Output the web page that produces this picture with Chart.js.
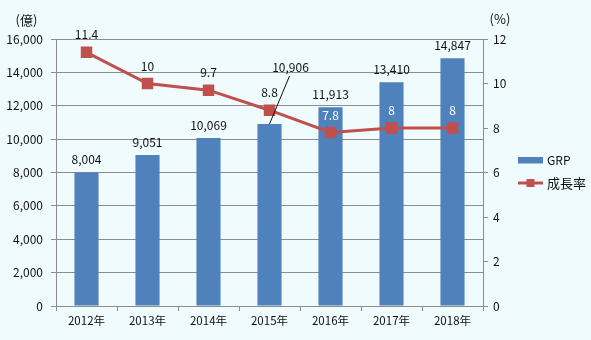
<!DOCTYPE html>
<html>
<head>
<meta charset="utf-8">
<script src="https://cdn.jsdelivr.net/npm/chart.js@4"></script>
<style>
  html, body { margin: 0; padding: 0; background: #effbfd; }
  #wrap { width: 591px; height: 340px; position: relative; }
</style>
</head>
<body>
<div id="wrap"><canvas id="chart"></canvas></div>
<script>
const years = ['2012年', '2013年', '2014年', '2015年', '2016年', '2017年', '2018年']
const grp = [8004, 9051, 10069, 10906, 11913, 13410, 14847]
const growth = [11.4, 10, 9.7, 8.8, 7.8, 8, 8]
const grpTicks = [0, 2000, 4000, 6000, 8000, 10000, 12000, 14000, 16000]
const rateTicks = [0, 2, 4, 6, 8, 10, 12]

const BLUE = '#4f81bd'
const RED = '#c0504d'
const GRID = '#8c8c8c'
const FONT = "'Noto Sans CJK JP', 'Noto Sans', sans-serif"

const fmt = n => n.toLocaleString('en-US')

// background, value labels, unit labels and legend
const decor = {
  id: 'decor',
  beforeDraw (chart) {
    const ctx = chart.ctx
    ctx.save()
    ctx.fillStyle = '#effbfd'
    ctx.fillRect(0, 0, chart.width, chart.height)
    ctx.restore()
  },
  afterDatasetsDraw (chart) {
    const ctx = chart.ctx
    const bars = chart.getDatasetMeta(0).data
    const pts = chart.getDatasetMeta(1).data
    ctx.save()
    ctx.font = `12px ${FONT}`
    ctx.textAlign = 'center'
    ctx.textBaseline = 'middle'

    bars.forEach((bar, i) => {
      ctx.fillStyle = '#111'
      if (i === 3) {
        // label moved up and right, with a leader line
        ctx.strokeStyle = '#111'
        ctx.lineWidth = 1
        ctx.beginPath()
        ctx.moveTo(bar.x, bar.y)
        ctx.lineTo(bar.x + 20, bar.y - 48)
        ctx.stroke()
        ctx.fillText(fmt(grp[i]), bar.x + 21, bar.y - 57)
      } else {
        ctx.fillText(fmt(grp[i]), bar.x, bar.y - 12.5)
      }
    })

    pts.forEach((pt, i) => {
      const ly = pt.y - 17.5
      const bar = bars[i]
      ctx.fillStyle = ly > bar.y ? '#ffffff' : '#111'
      ctx.fillText(String(growth[i]), pt.x, ly)
    })

    // unit labels
    ctx.font = `13px ${FONT}`
    ctx.fillStyle = '#111'
    ctx.fillText('(億)', 26.5, 20)
    ctx.fillText('(%)', 500, 19)

    // legend
    const lx = 518
    ctx.fillStyle = BLUE
    ctx.fillRect(lx, 157, 25, 6.5)
    ctx.strokeStyle = RED
    ctx.lineWidth = 3
    ctx.beginPath()
    ctx.moveTo(lx, 183)
    ctx.lineTo(lx + 25, 183)
    ctx.stroke()
    ctx.fillStyle = RED
    ctx.fillRect(lx + 8.5, 179, 8, 8)
    ctx.fillStyle = '#111'
    ctx.textAlign = 'left'
    ctx.font = `12px ${FONT}`
    ctx.fillText(chart.data.datasets[0].label, lx + 29, 160.5)
    ctx.font = `13px ${FONT}`
    ctx.fillText(chart.data.datasets[1].label, lx + 29, 183.5)
    ctx.restore()
  }
}

new Chart(document.getElementById('chart'), {
  data: {
    labels: years,
    datasets: [
      {
        type: 'bar',
        label: 'GRP',
        data: grp,
        yAxisID: 'y',
        backgroundColor: BLUE,
        categoryPercentage: 1,
        barPercentage: 0.395,
        order: 1
      },
      {
        type: 'line',
        label: '成長率',
        data: growth,
        yAxisID: 'y1',
        borderColor: RED,
        backgroundColor: RED,
        borderWidth: 3,
        pointStyle: 'rect',
        pointRadius: 6,
        pointHoverRadius: 6,
        tension: 0,
        order: 0
      }
    ]
  },
  options: {
    responsive: true,
    maintainAspectRatio: false,
    animation: false,
    events: [],
    layout: { padding: { top: 39, left: 0, right: 0, bottom: 0 } },
    plugins: {
      legend: { display: false },
      tooltip: { enabled: false }
    },
    scales: {
      x: {
        grid: { display: true, drawOnChartArea: false, offset: true, color: GRID, tickLength: 5 },
        border: { color: GRID },
        ticks: { color: '#111', font: { family: FONT, size: 11.5 }, padding: 3 },
        afterFit: s => { s.height = 34 }
      },
      y: {
        position: 'left',
        min: 0,
        max: 16000,
        afterBuildTicks: s => { s.ticks = grpTicks.map(v => ({ value: v })) },
        grid: { color: GRID, tickLength: 5 },
        border: { color: GRID },
        ticks: { color: '#111', font: { family: FONT, size: 12 }, padding: 8, callback: v => fmt(v) },
        afterFit: s => { s.width = 56 }
      },
      y1: {
        position: 'right',
        min: 0,
        max: 12,
        afterBuildTicks: s => { s.ticks = rateTicks.map(v => ({ value: v })) },
        grid: { drawOnChartArea: false, color: GRID, tickLength: 5 },
        border: { color: GRID },
        ticks: { color: '#111', font: { family: FONT, size: 12 }, padding: 5 },
        afterFit: s => { s.width = 108 }
      }
    }
  },
  plugins: [decor]
})
</script>
</body>
</html>
